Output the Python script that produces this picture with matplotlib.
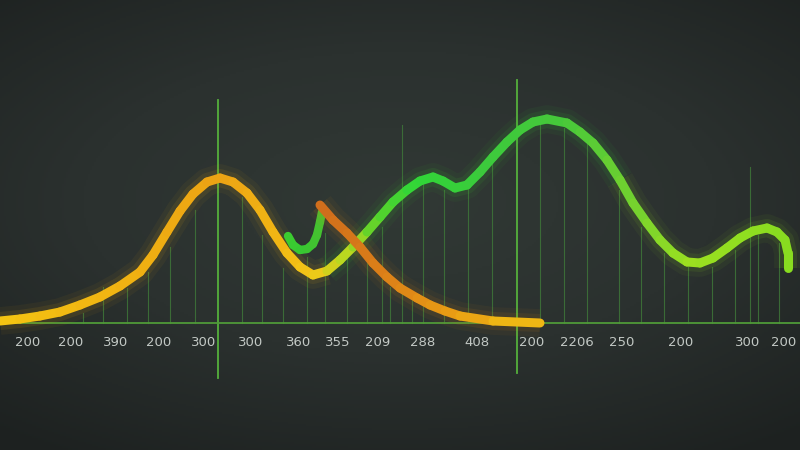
import numpy as np
import matplotlib
matplotlib.use("Agg")
import matplotlib.pyplot as plt
from matplotlib.collections import LineCollection
from matplotlib.colors import LinearSegmentedColormap

# main curve (yellow -> green), positions along the axis and heights above baseline
main_x = [0, 20, 40, 60, 80, 100, 120, 140, 153, 167, 180, 193, 207, 220, 233, 247, 260, 273, 287,
          300, 313, 327, 340, 353, 367, 380, 393, 407, 420, 433, 443, 455, 467, 480, 493, 507, 520,
          533, 547, 567, 580, 593, 607, 620, 633, 647, 660, 673, 687, 700, 713, 727, 740, 753, 767,
          777, 785, 788, 788]
main_y = [2, 4, 7, 11, 18, 26, 37, 51, 68, 91, 112, 129, 141, 145, 141, 130, 113, 91, 70,
          56, 48, 52, 63, 76, 91, 106, 121, 133, 142, 146, 142, 135, 138, 151, 166, 181, 193,
          201, 204, 200, 191, 180, 163, 143, 120, 100, 83, 70, 61, 60, 65, 75, 85, 92, 95,
          91, 83, 70, 55]

# orange falling curve
orange_x = [320, 333, 347, 360, 373, 387, 400, 417, 430, 445, 460, 493, 540]
orange_y = [118, 103, 90, 76, 60, 46, 35, 25, 18, 12, 7, 2, 0]

# small green hook
hook_x = [288, 293, 300, 307, 313, 317, 320, 322]
hook_y = [87, 78, 73, 74, 79, 88, 101, 111]

# thin vertical stems
stem_x = [83, 103, 127, 148, 170, 195, 242, 262, 283, 307, 325, 347, 367, 382, 390, 402, 412,
          423, 444, 468, 492, 540, 564, 587, 619, 641, 664, 688, 712, 735, 750, 758, 779]
stem_top = [10, 36, 35, 51, 76, 113, 126, 88, 55, 66, 90, 73, 60, 96, 36, 198, 23,
            140, 133, 136, 160, 203, 195, 180, 133, 96, 70, 56, 56, 73, 156, 88, 80]

# two tall markers
tall_x = [218, 517]
tall_top = [223, 243]
tall_bottom = [-55, -50]

labels = ["200", "200", "390", "200", "300", "300", "360", "355", "209", "288", "408",
          "200", "2206", "250", "200", "300", "200"]
label_x = [28, 71, 116, 159, 204, 251, 299, 338, 378, 423, 477, 532, 577, 622, 681, 748, 784]

fig = plt.figure(figsize=(8, 4.5), dpi=100)
ax = fig.add_axes([0, 0, 1, 1])
ax.set_xlim(0, 800)
ax.set_ylim(-127, 323)
ax.axis("off")

# background vignette
gx, gy = np.meshgrid(np.linspace(-1, 1, 400), np.linspace(-1, 1, 225))
r = np.sqrt((gx * 0.85) ** 2 + ((gy + 0.1) * 1.0) ** 2)
bg_cmap = LinearSegmentedColormap.from_list("bg", ["#313935", "#2b312f", "#1d2120"])
ax.imshow(r, cmap=bg_cmap, extent=[0, 800, -127, 323], aspect="auto", zorder=0,
          vmin=0, vmax=1.35)

# baseline
ax.axhline(0, color="#4f9a38", lw=1.3, zorder=2)

for x, t in zip(stem_x, stem_top):
    ax.plot([x, x], [0, t], color="#3d7238", lw=0.8, alpha=0.9, zorder=1)
for x, t, b in zip(tall_x, tall_top, tall_bottom):
    ax.plot([x, x], [b, t], color="#55b03c", lw=1.3, zorder=1)


def glow(xs, ys, color, z):
    for w, a in [(20, 0.05), (13, 0.09)]:
        ax.plot(xs, ys, color=color, lw=w, alpha=a, solid_capstyle="butt",
                solid_joinstyle="round", zorder=z)


def grad_line(xs, ys, cmap, lw, z):
    pts = np.column_stack([xs, ys])
    segs = np.stack([pts[:-1], pts[1:]], axis=1)
    mid = (np.array(xs[:-1]) + np.array(xs[1:])) / 2.0
    t = (mid - min(xs)) / (max(xs) - min(xs))
    ax.add_collection(LineCollection(segs, colors=cmap(t), linewidths=lw,
                                     capstyle="round", joinstyle="round", zorder=z))


main_cmap = LinearSegmentedColormap.from_list(
    "main", [(0.0, "#f4c412"), (0.18, "#f0b012"), (0.28, "#eca214"), (0.36, "#f2b814"),
             (0.40, "#f2c818"), (0.44, "#b8d820"), (0.48, "#58d22c"), (0.53, "#30d638"),
             (0.62, "#3cca3c"), (0.72, "#46c83a"), (0.80, "#70d030"), (0.88, "#9ce020"),
             (1.0, "#88dc20")])
orange_cmap = LinearSegmentedColormap.from_list(
    "org", [(0.0, "#cf6c1c"), (0.3, "#dc8018"), (0.6, "#e89c14"), (1.0, "#f2c014")])
hook_cmap = LinearSegmentedColormap.from_list("hook", ["#3ccc30", "#36c832", "#48c030"])

glow(main_x[:22], main_y[:22], "#f0b010", 3)
glow(main_x[21:44], main_y[21:44], "#3cd030", 3)
glow(main_x[43:], main_y[43:], "#90e020", 3)
glow(orange_x, orange_y, "#e08c14", 4)

grad_line(main_x, main_y, main_cmap, 6.5, 4)
grad_line(hook_x, hook_y, hook_cmap, 6, 3.5)
grad_line(orange_x, orange_y, orange_cmap, 6.5, 5)

for x, s in zip(label_x, labels):
    ax.text(x, -20, s, color="#c2c8c4", fontsize=9.5, ha="center", va="center", zorder=6)

fig.savefig("out.png", dpi=100)
